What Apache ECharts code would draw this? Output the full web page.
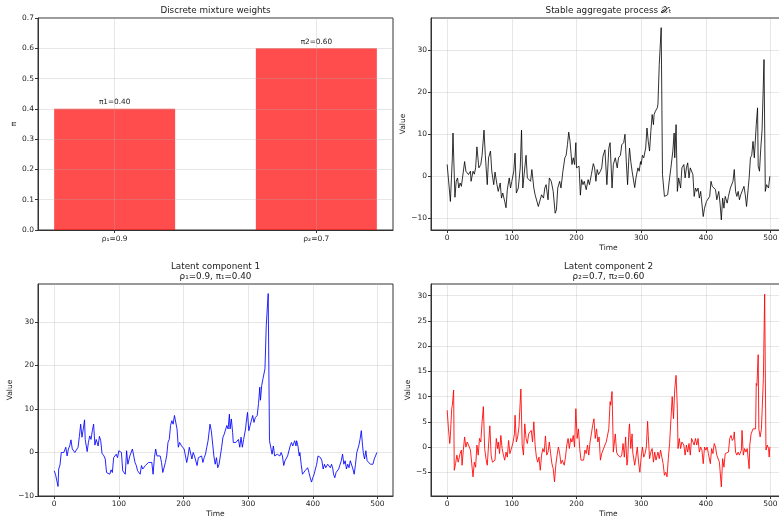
<!DOCTYPE html>
<html><head><meta charset="utf-8">
<script src="https://cdn.jsdelivr.net/npm/echarts@6/dist/echarts.min.js"></script>
<style>html,body{margin:0;padding:0;background:#fff;overflow:hidden;width:779px;height:521px}#c{width:792px;height:521px}</style>
</head><body><div id="c"></div>
<script>
// ---------- data ----------
const weightCategories = ['ρ₁=0.9', 'ρ₂=0.7'];
const weightValues = [0.40, 0.60];
const weightLabels = ['π1=0.40', 'π2=0.60'];
const weightTicks = [0, 0.1, 0.2, 0.3, 0.4, 0.5, 0.6, 0.7];
const timeTicks = [0, 100, 200, 300, 400, 500];
const aggTicks = [-10, 0, 10, 20, 30];
const comp1Ticks = [-10, 0, 10, 20, 30];
const comp2Ticks = [-5, 0, 5, 10, 15, 20, 25, 30];

// [time, value]
const aggregate = [[0,2.8],[5,-6],[8,4.4],[9,10.3],[12,-5],[14,-1.2],[16,-0.4],[18,-2.8],[20,-1.6],[22,-2.4],[24,-2],[27,3.5],[29,1.2],[31,1.5],[33,0.4],[36,1.2],[37,-1.2],[40,1.2],[42,0.5],[44,2],[46,7],[49,2],[52,2.8],[54,5],[57,11],[59,5],[62,-2],[64,4.4],[67,6],[69,1.2],[72,-2],[74,1],[77,-2],[79,-3.6],[82,-1.6],[84,-5.2],[86,-4],[89,-6],[91,-7.5],[93,-3.2],[96,-0.4],[98,-2.8],[100,-1.2],[103,1.2],[105,5.5],[107,-4],[110,-2.8],[113,2],[115,11],[117,-2.8],[119,0.4],[122,5],[124,-0.4],[126,0],[129,-1.2],[131,1.6],[134,-2.8],[136,-4.4],[139,-4],[141,-7.2],[143,-6.8],[146,-4.4],[149,-5.2],[151,-2.8],[153,-2],[156,-5.6],[158,-0.4],[161,-1.2],[164,-3.6],[167,-8.8],[169,-8],[171,-2.8],[174,-1.2],[176,-2.8],[179,1.2],[182,4.4],[184,5],[186,7.5],[188,10.5],[190,8.3],[193,2.8],[195,4.4],[197,2.8],[199,8],[200,2],[202,2],[204,2.4],[206,-4.5],[208,-0.8],[210,-2],[212,-1.2],[215,-3.2],[218,-0.8],[220,-2],[223,0.4],[226,3],[228,2],[230,-1.2],[232,1.6],[234,0.4],[237,1.2],[239,2],[241,4.8],[244,6.3],[247,-2],[250,6.7],[252,8],[255,-2.8],[257,2.8],[260,4.4],[263,2],[265,4.4],[268,5],[270,7.5],[273,8],[275,10],[277,3.5],[279,-2],[281,4.4],[282,6.7],[284,3.5],[286,1.2],[288,1.2],[290,-2.7],[292,-0.4],[295,2],[297,1.2],[299,3.5],[300,2.8],[302,5],[304,4.4],[307,6.7],[309,11.5],[311,8.3],[313,6],[315,10.7],[317,14.7],[319,12.3],[320,14.7],[322,15.5],[325,16.3],[326,17.2],[328,26.6],[331,35.4],[333,0.4],[335,0.8],[336,-4.8],[338,-5],[341,-4.4],[344,-0.4],[346,2],[349,6],[351,10.3],[352,4.4],[354,12.3],[356,-3.6],[358,-0.4],[361,-2.8],[363,2],[366,2.8],[368,-0.4],[370,2],[372,3.2],[374,-0.4],[376,2],[378,1.6],[380,0.4],[382,-4.8],[384,-2.8],[386,-3.6],[388,-2.8],[390,-5.2],[392,-3.6],[396,-9.6],[398,-7.6],[401,-6],[403,-5.6],[406,-4.8],[408,-1.2],[410,-2.4],[412,-2],[415,-3.2],[417,-5.6],[420,-3.6],[422,-6.4],[424,-10.4],[426,-5.2],[428,-7.6],[430,-4.8],[433,-6.4],[435,-4.8],[438,-2.8],[440,-3.2],[442,-1.2],[444,1.6],[446,-3.6],[448,-4.8],[450,-3.6],[452,-5.6],[454,-4.4],[457,-4.8],[459,-2.4],[461,-4.4],[463,-7.2],[465,-7.5],[467,-0.4],[469,4.4],[471,5],[473,8.3],[475,4.4],[478,12.3],[480,16.3],[481,2.4],[483,1.2],[485,6.7],[487,11],[490,27.8],[492,-3.6],[494,-2],[497,-2.8],[499,0]];

const component1 = [[0,-4.2],[2,-5],[4,-5.4],[6,-7.8],[7,-3.8],[9,-2.9],[11,0],[13,-0.4],[15,0],[16,0.4],[18,1.2],[20,-0.8],[22,0.8],[24,1.5],[26,2.9],[28,0.8],[30,1.2],[32,0],[35,0.4],[37,1.2],[39,3.7],[41,6.5],[43,3.5],[45,5.4],[47,7.5],[48,3],[51,0.2],[53,2.3],[55,3.8],[57,3],[59,5],[61,6.5],[63,1.7],[65,3],[68,1.5],[70,3.7],[72,2.7],[74,-0.2],[77,-0.8],[79,-1.5],[81,-4.6],[84,-4.2],[86,-5],[88,-4],[90,-4.6],[92,-1.2],[94,-0.8],[96,-0.4],[98,-1.2],[100,0.4],[102,0.4],[104,0],[106,-4.2],[108,-4.6],[110,-5],[112,0.4],[114,-2.7],[117,-0.8],[119,-0.4],[121,0.8],[123,0.8],[125,-2.3],[127,-3],[129,-4.2],[131,-3.8],[133,-5],[135,-3],[137,-3.8],[139,-3.5],[141,-3],[144,-2.7],[146,-2.3],[148,-2.7],[151,-2.3],[153,-5],[155,-1.2],[157,0.8],[159,-0.8],[161,-0.4],[164,-0.8],[166,-2.3],[168,-4.6],[170,-4.2],[172,-2.3],[174,-0.8],[176,2.3],[178,3],[180,6.2],[182,7.3],[184,6.5],[186,8.5],[188,8.8],[190,5.4],[192,1.2],[194,2.3],[197,1.5],[199,1.9],[201,0.8],[203,0.4],[205,-2.3],[207,-0.8],[209,1.2],[211,1.5],[213,-1.5],[215,0],[217,-0.8],[219,-0.4],[221,-3],[223,-1.2],[225,-1.5],[228,-0.8],[230,-2.3],[232,-1.2],[234,-0.4],[236,1.2],[238,2.7],[240,3],[241,6.5],[243,5],[245,5.4],[247,-0.8],[249,-2.7],[251,-1.2],[253,-3.5],[255,-2.7],[257,-0.8],[259,1.2],[261,3.5],[263,4.2],[265,3.8],[267,6.2],[269,5.4],[271,8.8],[272,5.4],[274,7.7],[276,4.6],[277,2.3],[279,2.7],[281,2.3],[283,2.3],[285,3],[287,1.2],[289,3.5],[291,1.2],[293,3],[296,5.4],[297,6.9],[299,9.2],[301,5],[303,6.2],[305,6.2],[307,8.5],[309,6.9],[311,8],[313,7.7],[314,8.5],[316,11.2],[318,15],[319,12],[321,15.4],[323,17],[325,17.3],[326,19.2],[328,29.2],[331,36.5],[333,2.7],[335,2.3],[337,-0.4],[339,1.5],[341,-0.8],[343,-1.2],[345,-0.4],[347,0],[349,-0.8],[351,0],[353,-0.8],[355,-3],[357,-1.9],[359,-2.3],[361,-0.8],[363,-0.8],[365,1.5],[367,2.3],[369,1.5],[372,2.7],[374,1.5],[375,2.7],[377,1.5],[379,-0.8],[380,0],[382,-2.7],[384,-5],[386,-4.6],[388,-4.2],[390,-3.8],[392,-3.5],[394,-4.6],[396,-5.8],[398,-6.8],[400,-5.8],[402,-5],[404,-3.8],[406,-2.7],[408,-0.8],[410,-0.8],[412,-1.2],[414,-1.9],[416,-3.8],[418,-2.7],[420,-3.5],[423,-2.7],[425,-3],[427,-3.5],[429,-2.7],[431,-3.8],[432,-5],[434,-5.8],[436,-4.6],[438,-4.6],[440,-3.8],[442,-3.5],[444,-1.9],[446,-0.4],[448,-2.7],[450,-1.9],[452,-3.8],[454,-2.7],[456,-3.5],[458,-1.9],[460,-1.5],[462,-3.8],[464,-5],[466,-2.7],[468,0],[471,1.5],[473,3],[475,5],[477,1.5],[478,0],[480,-1.5],[482,0.4],[484,-1.9],[487,-1.5],[489,-2.7],[491,-2.3],[493,-2.7],[495,-1.5],[497,-0.8],[499,0]];

const component2 = [[0,7.3],[2,3.6],[4,0.7],[5,2.3],[7,7.6],[8,8.3],[10,11.3],[11,-4.6],[13,-3.3],[15,-1.6],[17,-3],[20,-1.3],[22,-0.6],[23,-3.6],[25,-0.6],[27,2],[29,0],[31,1],[33,0.4],[36,-0.6],[38,-3.3],[40,-5.9],[42,-3],[44,-4],[46,0.4],[48,-1.6],[50,1.7],[52,1],[54,5],[56,8],[58,-0.3],[60,-2.3],[62,-3.6],[64,0.4],[66,4.2],[68,-1.6],[70,-3],[72,-3.3],[74,-2.6],[76,1.7],[78,-0.3],[79,1],[81,-1.3],[83,2.3],[85,-0.3],[87,-1.6],[89,-2.6],[91,-1],[93,-2],[95,1.3],[97,-1.3],[100,0],[102,1],[104,2.6],[105,6.3],[107,1],[109,2],[111,4],[114,11.5],[116,0.4],[118,-1.6],[120,4.6],[122,1.7],[124,0.7],[126,2.6],[128,2.3],[130,3.3],[132,1],[134,5],[136,0.4],[138,-2],[140,-3],[142,-2],[144,-4.6],[146,-1.6],[148,-0.3],[150,-1],[152,2.2],[154,-1.6],[156,-1],[158,1],[160,-1.3],[162,-3.3],[164,-4.3],[166,-6.9],[168,-3.6],[170,-1.6],[172,0],[174,-1.3],[176,-3.3],[178,-2.6],[181,-3.6],[183,-2],[185,0.4],[187,1.7],[189,-0.3],[191,1.7],[193,1],[195,2.3],[197,0],[199,7.6],[201,1.7],[203,3.6],[205,-0.3],[207,-2.6],[209,-2.3],[211,-2.6],[213,-0.6],[215,-1.3],[217,0.4],[219,-1.6],[221,1],[223,2.6],[225,4.3],[227,5.6],[229,1.7],[231,3.6],[233,1],[235,2],[237,-2.6],[239,-1.3],[241,-1.6],[244,0.4],[246,1],[248,1.3],[250,3.6],[252,9],[253,8.3],[255,11],[257,-1],[259,-1.3],[260,2.6],[262,-1],[264,-1.6],[266,-1.6],[268,-2],[270,-1.6],[272,0.7],[274,-2],[276,2],[278,-3.6],[279,-3],[281,3],[282,4.6],[284,-0.3],[286,2.6],[287,-1],[290,-3.6],[292,-2],[294,0],[296,-3],[298,-5],[300,-2],[302,0],[304,-2],[306,-1.3],[308,0],[310,5.1],[311,2.3],[313,-2.3],[315,-1],[317,-0.3],[319,-3],[321,-1],[323,-2.6],[326,-1],[328,-2.3],[330,-0.6],[332,-2],[334,-3.3],[336,-5.6],[338,-5],[340,-5.9],[342,-2.3],[344,0.7],[346,0.4],[348,10],[350,5.6],[352,11.6],[354,14.2],[356,7.6],[357,-0.3],[359,1.7],[361,-0.3],[363,1],[366,0.4],[368,-1.6],[370,0.4],[372,-1],[374,0.7],[376,-1.6],[378,1.7],[380,2],[382,0.4],[384,1.7],[386,0.4],[388,1.7],[390,-1],[392,0],[394,-0.6],[396,-3.3],[398,0],[400,-0.6],[402,0],[404,-1.3],[407,-3.3],[409,-0.3],[411,-1.3],[413,0.7],[415,0],[417,-1.6],[419,-1.3],[421,-3],[422,-4.6],[424,-7.9],[426,-2.3],[428,-4],[430,-1.3],[432,-1.6],[435,-1],[437,1.7],[439,2.3],[441,1.3],[443,1.7],[444,3],[446,-1],[448,-1.6],[450,-1],[452,-1.6],[455,-0.6],[456,3.3],[458,-1.6],[460,-0.3],[462,-1],[464,-0.3],[467,-4.3],[468,0.4],[470,2.6],[471,2.3],[473,3.6],[475,3.3],[477,3.6],[478,12.6],[479,12.2],[481,18.3],[482,3.6],[484,2],[486,3.6],[487,3.3],[489,13.6],[491,30.3],[493,-0.6],[495,0.4],[497,-0.3],[498,-2],[499,0]];

// ---------- chart ----------
const FONT = 'DejaVu Sans';
const TXT = '#222';
const SPINE = '#333';
const GRIDC = 'rgba(176,176,176,0.3)';
const fmtMinus = v => String(v).replace('-', '\u2212');

function baseAxis(gi, ticks, fmt, extra) {
  return Object.assign({
    type: 'value', gridIndex: gi,
    axisLine: {show: true, onZero: false, lineStyle: {color: SPINE, width: 1}},
    axisTick: {show: true, length: 3, customValues: ticks, lineStyle: {color: SPINE, width: 1}},
    axisLabel: {customValues: ticks, formatter: fmt, fontFamily: FONT, fontSize: 7.5, color: TXT, margin: 4},
    splitLine: {show: true, lineStyle: {color: GRIDC, width: 1}},
    nameLocation: 'middle',
    nameTextStyle: {fontFamily: FONT, fontSize: 7.5, color: TXT}
  }, extra);
}

const grids = [
  {left: 38, top: 18, width: 355, height: 212},
  {left: 431, top: 18, width: 355, height: 212},
  {left: 38, top: 284, width: 355, height: 212},
  {left: 431, top: 284, width: 355, height: 212}
].map(g => Object.assign(g, {show: true, borderColor: SPINE, borderWidth: 1, backgroundColor: 'transparent', containLabel: false}));

const titleStyle = {fontFamily: FONT, fontSize: 8.8, fontWeight: 'normal', color: TXT, lineHeight: 10};

const option = {
  animation: false,
  backgroundColor: '#fff',
  title: [
    {text: 'Discrete mixture weights', left: 215.5, top: 6, padding: 0, textAlign: 'center', textStyle: titleStyle},
    {text: 'Stable aggregate process 𝒳ₜ', left: 608.5, top: 6, padding: 0, textAlign: 'center', textStyle: titleStyle},
    {text: 'Latent component 1\nρ₁=0.9, π₁=0.40', left: 215.5, top: 262, padding: 0, textAlign: 'center', textStyle: titleStyle},
    {text: 'Latent component 2\nρ₂=0.7, π₂=0.60', left: 608.5, top: 262, padding: 0, textAlign: 'center', textStyle: titleStyle}
  ],
  grid: grids,
  xAxis: [
    baseAxis(0, [0, 1], v => weightCategories[Math.round(v)], {min: -0.38, max: 1.38, z: 3,
      axisLabel: {customValues: [0, 1], formatter: v => weightCategories[Math.round(v)], fontFamily: FONT, fontSize: 7.5, color: TXT, margin: 5}}),
    baseAxis(1, timeTicks, fmtMinus, {min: -25, max: 524, name: 'Time', nameGap: 14}),
    baseAxis(2, timeTicks, fmtMinus, {min: -25, max: 524, name: 'Time', nameGap: 14}),
    baseAxis(3, timeTicks, fmtMinus, {min: -25, max: 524, name: 'Time', nameGap: 14})
  ],
  yAxis: [
    baseAxis(0, weightTicks, v => v.toFixed(1), {min: 0, max: 0.7, name: 'π', nameGap: 19, z: 3}),
    baseAxis(1, aggTicks, fmtMinus, {min: -12.8, max: 37.7, name: 'Value', nameGap: 21}),
    baseAxis(2, comp1Ticks, fmtMinus, {min: -10, max: 38.7, name: 'Value', nameGap: 20}),
    baseAxis(3, comp2Ticks, fmtMinus, {min: -9.7, max: 32.3, name: 'Value', nameGap: 15})
  ],
  series: [
    {type: 'bar', xAxisIndex: 0, yAxisIndex: 0, z: 1, barWidth: 121,
      data: weightValues.map((v, i) => [i, v]),
      itemStyle: {color: 'rgba(255,0,0,0.7)'},
      label: {show: true, position: 'top', distance: 3, formatter: p => weightLabels[p.dataIndex],
        fontFamily: FONT, fontSize: 7.3, color: TXT}},
    {type: 'line', xAxisIndex: 1, yAxisIndex: 1, data: aggregate, symbol: 'none',
      lineStyle: {color: '#000', width: 1, opacity: 0.8}},
    {type: 'line', xAxisIndex: 2, yAxisIndex: 2, data: component1, symbol: 'none',
      lineStyle: {color: '#0000ff', width: 1, opacity: 0.85}},
    {type: 'line', xAxisIndex: 3, yAxisIndex: 3, data: component2, symbol: 'none',
      lineStyle: {color: '#ff0000', width: 1, opacity: 0.85}}
  ]
};

const chart = echarts.init(document.getElementById('c'), null, {renderer: 'canvas'});
chart.setOption(option);
</script>
</body></html>
